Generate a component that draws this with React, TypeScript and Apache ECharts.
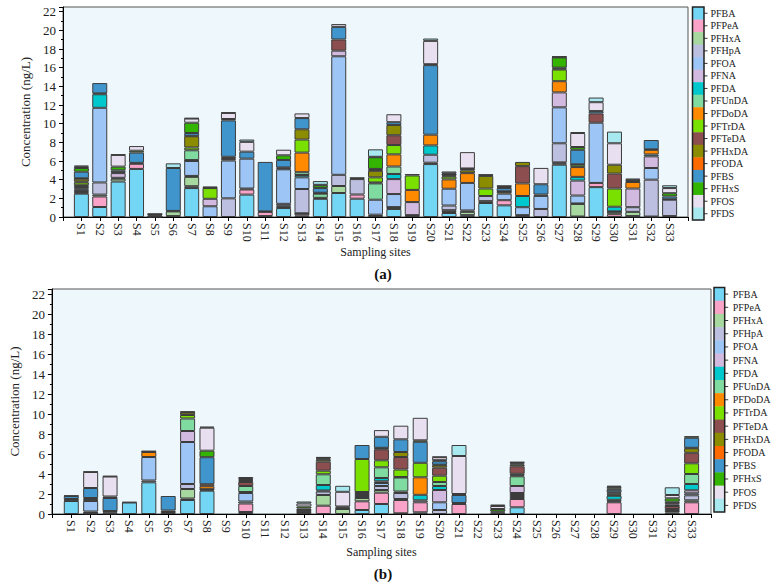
import React, { useEffect, useRef } from "react";
import * as echarts from "echarts";

const sites = ["S1","S2","S3","S4","S5","S6","S7","S8","S9","S10","S11","S12","S13","S14","S15","S16","S17","S18","S19","S20","S21","S22","S23","S24","S25","S26","S27","S28","S29","S30","S31","S32","S33"];
const compounds = ["PFBA","PFPeA","PFHxA","PFHpA","PFOA","PFNA","PFDA","PFUnDA","PFDoDA","PFTrDA","PFTeDA","PFHxDA","PFODA","PFBS","PFHxS","PFOS","PFDS"];
const colors = ["#72d6f4","#f9a3c8","#a6d8a0","#bdbfe0","#9dc5f5","#d2b9e0","#00c8cc","#7fdba0","#ff8a00","#7ae000","#8c4e4e","#8c8c00","#ff6a00","#3f95cc","#33b400","#e8e0f0","#a8e8ef"];

// ---- Panel (a) ----
const PFBA_a = [2.5,1.07,3.8,5.15,0.02, 0.1,3.1,0,0,2.4, 0.1,0.96,0.15,1.95,2.57, 1.96,0.1,0.86,0,5.67, 0.43,0.2,1.5,1.25,0, 0,5.6,0.05,3.2,0, 0.05,0,0];
const PFPeA_a = [0.1,1.13,0,0.55,0, 0,0.2,0,0,0.55, 0.45,0.15,0.2,0.1,0, 0.45,0,0.15,0,0.15, 0.1,0,0.2,0.55,0, 0,0.15,0,0.45,0.3, 0.05,0.05,0.1];
const PFHxA_a = [0.1,0.2,0.3,0,0.03, 0.5,1.0,0,0,0, 0,0.1,0.05,0,0.75, 0,0.15,0.05,0.15,0, 0.2,0.35,0,0,0.1, 0,0.1,1.35,0,0.25, 0.45,0,0];
const PFHpA_a = [0.1,1.3,0.1,0,0, 0.05,0.1,0,2.0,0.1, 0,0.2,2.6,0,1.2, 1.65,0,0,0,0.85, 0.5,0.15,0.55,0,0.1, 0.86,2.05,0.05,0,0.05, 0.5,3.95,1.75];
const PFOA_a = [0.15,8.0,0,0,0, 0,1.6,1.15,4.05,3.2, 0,3.7,1.25,0,12.7, 0,1.6,1.4,0.05,0, 1.8,2.95,0,0.7,0.85, 1.4,3.85,0.85,6.45,0, 0,1.25,0];
const PFNA_a = [0.1,0,0.5,0,0, 0,0.05,0.8,0,0, 0,0,0,0,0.6, 0,0,1.6,1.4,0, 0,0,0,0,0, 0,1.6,1.6,0,0, 2.0,1.25,0];
const PFDA_a = [0.15,1.45,0.1,0,0, 0,0.05,0,0,0, 0,0,0.25,0,0, 0,0,0.55,0,1.0, 0,0,0,0,1.2, 0.15,0,0.4,0,0.5, 0,0.2,0];
const PFUnDA_a = [0.1,0.1,0,0,0, 0,1.05,0,0,0, 0,0,0.3,0.45,0, 0,1.75,0.8,0,0, 0,0,0,0,0, 0,0,0,0,0, 0,0,0];
const PFDoDA_a = [0.1,0,0,0,0, 0,0,0,0.15,0, 0,0,2.1,0,0, 0,0.1,1.3,1.3,1.15, 1.0,1.05,0,0,1.35, 0,1.2,1.05,0,0, 0.7,0.5,0];
const PFTrDA_a = [0.3,0,0,0,0, 0,0.3,1.15,0,0, 0,0,1.4,0,0, 0,0.55,1.0,1.55,0, 0.3,0,0.8,0,0, 0,1.25,0.25,0,1.95, 0,0,0];
const PFTeDA_a = [0.1,0,0,0,0.1, 0,0,0,0.1,0, 0.05,0.1,0,0.05,1.2, 0,0,1.05,0,0, 0,0,0,0,1.85, 0,0,0,1.0,1.6, 0,0,0];
const PFHxDA_a = [0.3,0,0,0,0, 0,1.2,0,0,0, 0,0,1.1,0.05,0, 0,0.7,1.1,0,0, 0.1,0.3,1.35,0.2,0.45, 0,0,0,0,0.95, 0,0,0];
const PFODA_a = [0.05,0,0,0.1,0, 0,0.05,0,0.15,0, 0,0.1,0,0,0, 0,0.1,0,0,0, 0,0,0,0.05,0, 0,0.1,0.05,0,0, 0.1,0.05,0.05];
const PFBS_a = [0.7,1.1,0.2,1.1,0, 4.6,0.3,0,3.9,0.75, 5.3,0.8,1.2,0.5,1.35, 0,0.1,0.3,0,7.45, 0.1,0.15,0,0.35,0, 1.1,0.1,1.55,0.25,0, 0.15,1.0,0.3];
const PFHxS_a = [0.4,0,0.4,0.2,0.1, 0,1.1,0.05,0.15,0, 0,0.5,0,0.3,0, 0.1,1.25,0,0.15,0.1, 0.05,0.05,0,0.1,0, 0,1.1,0.3,0,0, 0,0,0.35];
const PFOS_a = [0.15,0,1.25,0.5,0.05, 0,0.45,0,0.65,1.05, 0,0.6,0.5,0.05,0.3, 0,0.05,0.85,0,2.5, 0.1,1.75,0.1,0.1,0, 1.75,0.05,1.5,0.95,2.3, 0.1,0,0.55];
const PFDS_a = [0.1,0,0.05,0,0.05, 0.5,0.05,0.1,0.05,0.25, 0,0,0,0.4,0, 0.05,0.8,0,0,0.25, 0.2,0,0.05,0.05,0, 0,0.05,0.1,0.5,1.25, 0,0,0.3];

// ---- Panel (b) ----
const PFBA_b = [1.3,0.05,0.05,1.15,3.17, 0.2,1.4,2.33,0,0.2, 0,0,0,0,0, 0.4,1.0,0.07,0.17,0, 0,0,0,0.67,0, 0,0,0,0,0, 0,0.15,0];
const PFPeA_b = [0,0,0,0,0, 0,0.15,0,0,0.85, 0,0,0,0.83,0, 0.87,1.13,1.33,1.0,0, 1.0,0,0,0.83,0, 0,0,0,1.17,0, 0,0,1.17];
const PFHxA_b = [0,0.05,0,0,0, 0,0.95,0,0,0, 0,0,0,1.07,0.5, 0.33,0.27,0.1,0,0, 0,0,0,0.2,0, 0,0,0,0,0, 0,0.15,0.2];
const PFHpA_b = [0,0.15,0,0,0.18, 0,0.5,0.1,0,0.2, 0,0,0,0.35,0, 0.2,0.4,0.6,0,0.4, 0,0,0,0.2,0, 0,0,0,0.1,0, 0,0.2,0.5];
const PFOA_b = [0,1.05,0,0,2.35, 0,4.2,0.05,0,0.85, 0,0,0,0.1,0, 0,0.3,0.15,0,0.77, 0,0,0,0.2,0, 0,0,0,0.15,0, 0,0,0.2];
const PFNA_b = [0,0.05,0,0,0, 0,1.1,0,0,0, 0,0,0,0,0, 0.2,0.17,0,0.2,1.23, 0,0,0,0.7,0, 0,0,0,0,0, 0,0,0.3];
const PFDA_b = [0,0,0,0,0, 0,0,0,0,0.1, 0,0,0,0.55,0, 0,0.33,0,0.55,0.4, 0,0,0,0,0, 0,0,0,0.4,0, 0,0,0.63];
const PFUnDA_b = [0,0,0,0,0, 0,1.25,0,0,0.6, 0,0,0,1.07,0, 0,1.07,1.4,0,0.4, 0,0,0,0.97,0, 0,0,0,0.1,0, 0,0,1.0];
const PFDoDA_b = [0,0.15,0,0,0.5, 0,0,0.3,0,0, 0,0,0,0,0, 0.2,0,0.05,1.75,0, 0,0,0,0.1,0, 0,0,0,0,0, 0,0,0];
const PFTrDA_b = [0,0,0,0,0, 0,0.35,0,0,0, 0,0,0.2,0.36,0, 3.3,0.7,0.75,1.45,0.63, 0,0,0,0.15,0, 0,0,0,0.15,0, 0,0,1.07];
const PFTeDA_b = [0.05,0,0.1,0,0, 0,0.05,0,0,0.4, 0,0,0.05,0.9,0, 0,1.1,1.25,0,0.8, 0,0,0.15,0.75,0, 0,0,0,0,0, 0,0.3,1.05];
const PFHxDA_b = [0,0,0,0,0, 0,0.25,0,0,0.1, 0,0,0.1,0.2,0.05, 0,0.1,0.5,0,0.25, 0,0,0,0.18,0, 0,0,0,0.1,0, 0,0.15,0.45];
const PFODA_b = [0.15,0.1,0.15,0.05,0.05, 0.15,0,0.2,0,0.1, 0,0,0.05,0.1,0.1, 0,0.05,0,0,0.05, 0.1,0,0.1,0.1,0, 0,0,0,0,0, 0,0.13,0.05];
const PFBS_b = [0.3,1.0,1.3,0,0, 1.45,0,2.7,0,0, 0,0,0.15,0.1,0, 1.4,1.1,1.27,2.1,0.35, 0.8,0,0,0,0, 0,0,0,0.25,0, 0,0.15,1.0];
const PFHxS_b = [0,0,0.15,0,0, 0,0,0.65,0,0.1, 0,0,0.2,0.05,0.1, 0,0,0,0.15,0.1, 0.1,0,0.25,0.1,0, 0,0,0,0.15,0, 0,0.34,0.17];
const PFOS_b = [0,1.6,2.0,0,0.05, 0,0,2.3,0,0.2, 0,0,0.3,0,1.47, 0,0.67,1.36,2.25,0.3, 3.8,0,0.3,0.05,0, 0,0,0,0.15,0, 0,0.33,0];
const PFDS_b = [0.05,0.05,0.05,0,0, 0,0.05,0.1,0,0, 0,0,0.2,0,0.6, 0,0,0,0,0.05, 1.1,0,0.15,0,0, 0,0,0,0.1,0, 0,0.77,0];

const panelA = [PFBA_a,PFPeA_a,PFHxA_a,PFHpA_a,PFOA_a,PFNA_a,PFDA_a,PFUnDA_a,PFDoDA_a,PFTrDA_a,PFTeDA_a,PFHxDA_a,PFODA_a,PFBS_a,PFHxS_a,PFOS_a,PFDS_a];
const panelB = [PFBA_b,PFPeA_b,PFHxA_b,PFHpA_b,PFOA_b,PFNA_b,PFDA_b,PFUnDA_b,PFDoDA_b,PFTrDA_b,PFTeDA_b,PFHxDA_b,PFODA_b,PFBS_b,PFHxS_b,PFOS_b,PFDS_b];

const FONT = "Liberation Serif";
const xCats = ["", ...sites, ""];

function makeSeries(panel: number[][], idx: number) {
  return compounds.map((name, k) => ({
    type: "bar",
    name,
    stack: "total" + idx,
    xAxisIndex: idx,
    yAxisIndex: idx,
    barWidth: 15,
    itemStyle: { color: colors[k], borderColor: "#3c3c3c", borderWidth: 1 },
    data: [null, ...panel[k].map((v) => (v > 0 ? v : null)), null],
  }));
}

function legendEls(x: number, y: number, w: number, h: number, gap: number) {
  const ch = h / compounds.length;
  const els: any[] = [];
  compounds.forEach((n, k) => {
    const cy = y + (k + 0.5) * ch;
    els.push({ type: "rect", silent: true, shape: { x, y: y + k * ch, width: w, height: ch + 0.4 }, style: { fill: colors[k] } });
    els.push({ type: "line", silent: true, shape: { x1: x + w, y1: cy, x2: x + w + 3.5, y2: cy }, style: { stroke: "#333", lineWidth: 1 } });
    els.push({
      type: "text", silent: true, x: x + w + gap, y: cy,
      style: { text: n, fontSize: 10, fontFamily: FONT, fill: "#222", align: "left", verticalAlign: "middle", textAlign: "left", textVerticalAlign: "middle" },
    });
  });
  els.push({ type: "rect", silent: true, shape: { x, y, width: w, height: h }, style: { fill: "none", stroke: "#222", lineWidth: 1.5 } });
  return els;
}

function App() {
  const ref = useRef<HTMLDivElement>(null);
  useEffect(() => {
    if (!ref.current) return;
    const chart = echarts.init(ref.current, undefined, { renderer: "svg" });
    const grids = [
      { left: 63, right: 84, top: 7, height: 210 },
      { left: 40, right: 61, top: 289, height: 225 },
    ];
    const option: any = {
      animation: false,
      backgroundColor: "#ffffff",
      textStyle: { fontFamily: FONT },
      grid: grids.map((g) => ({ ...g, show: true, backgroundColor: "#eef8fc", borderColor: "#555", borderWidth: 1 })),
      xAxis: [0, 1].map((i) => ({
        type: "category",
        gridIndex: i,
        data: xCats,
        boundaryGap: false,
        axisLine: { lineStyle: { color: "#000", width: 1 } },
        axisTick: { show: true, interval: 0, length: 4, lineStyle: { color: "#000" } },
        axisLabel: { interval: 0, rotate: -90, fontSize: 12, color: "#222", margin: 6, fontFamily: FONT },
        name: "Sampling sites",
        nameLocation: "middle",
        nameGap: i === 0 ? 29 : 32,
        nameTextStyle: { fontSize: 12, color: "#222", fontFamily: FONT },
        splitLine: { show: false },
      })),
      yAxis: [0, 1].map((i) => ({
        type: "value",
        gridIndex: i,
        min: 0,
        max: 22.5,
        interval: 2,
        axisLine: { show: true, lineStyle: { color: "#000", width: 1 } },
        axisTick: { show: true, length: 4, lineStyle: { color: "#000" } },
        minorTick: { show: true, splitNumber: 2, length: 2, lineStyle: { color: "#000" } },
        splitLine: { show: false },
        minorSplitLine: { show: false },
        axisLabel: {
          fontSize: 13, color: "#222", margin: 7, fontFamily: FONT,
          formatter: (v: number) => (Number.isInteger(v) && v % 2 === 0 ? String(v) : ""),
        },
        name: "Concentration (ng/L)",
        nameLocation: "middle",
        nameGap: i === 0 ? 15 : 18,
        nameTextStyle: { fontSize: 13, color: "#222", fontFamily: FONT },
      })),
      series: [...makeSeries(panelA, 0), ...makeSeries(panelB, 1)],
      graphic: [
        ...legendEls(692.5, 7, 11.5, 213, 6.5),
        ...legendEls(714, 287.5, 10.7, 224.5, 8),
        {
          type: "text", silent: true, x: 383, y: 274,
          style: { text: "(a)", fontSize: 15, fontWeight: "bold", fontFamily: FONT, fill: "#111", align: "center", verticalAlign: "middle", textAlign: "center", textVerticalAlign: "middle" },
        },
        {
          type: "text", silent: true, x: 383, y: 574,
          style: { text: "(b)", fontSize: 15, fontWeight: "bold", fontFamily: FONT, fill: "#111", align: "center", verticalAlign: "middle", textAlign: "center", textVerticalAlign: "middle" },
        },
      ],
    };
    chart.setOption(option);
    return () => chart.dispose();
  }, []);
  return <div ref={ref} style={{ position: "fixed", left: 0, top: 0, width: 772, height: 586 }} />;
}

export default App;
